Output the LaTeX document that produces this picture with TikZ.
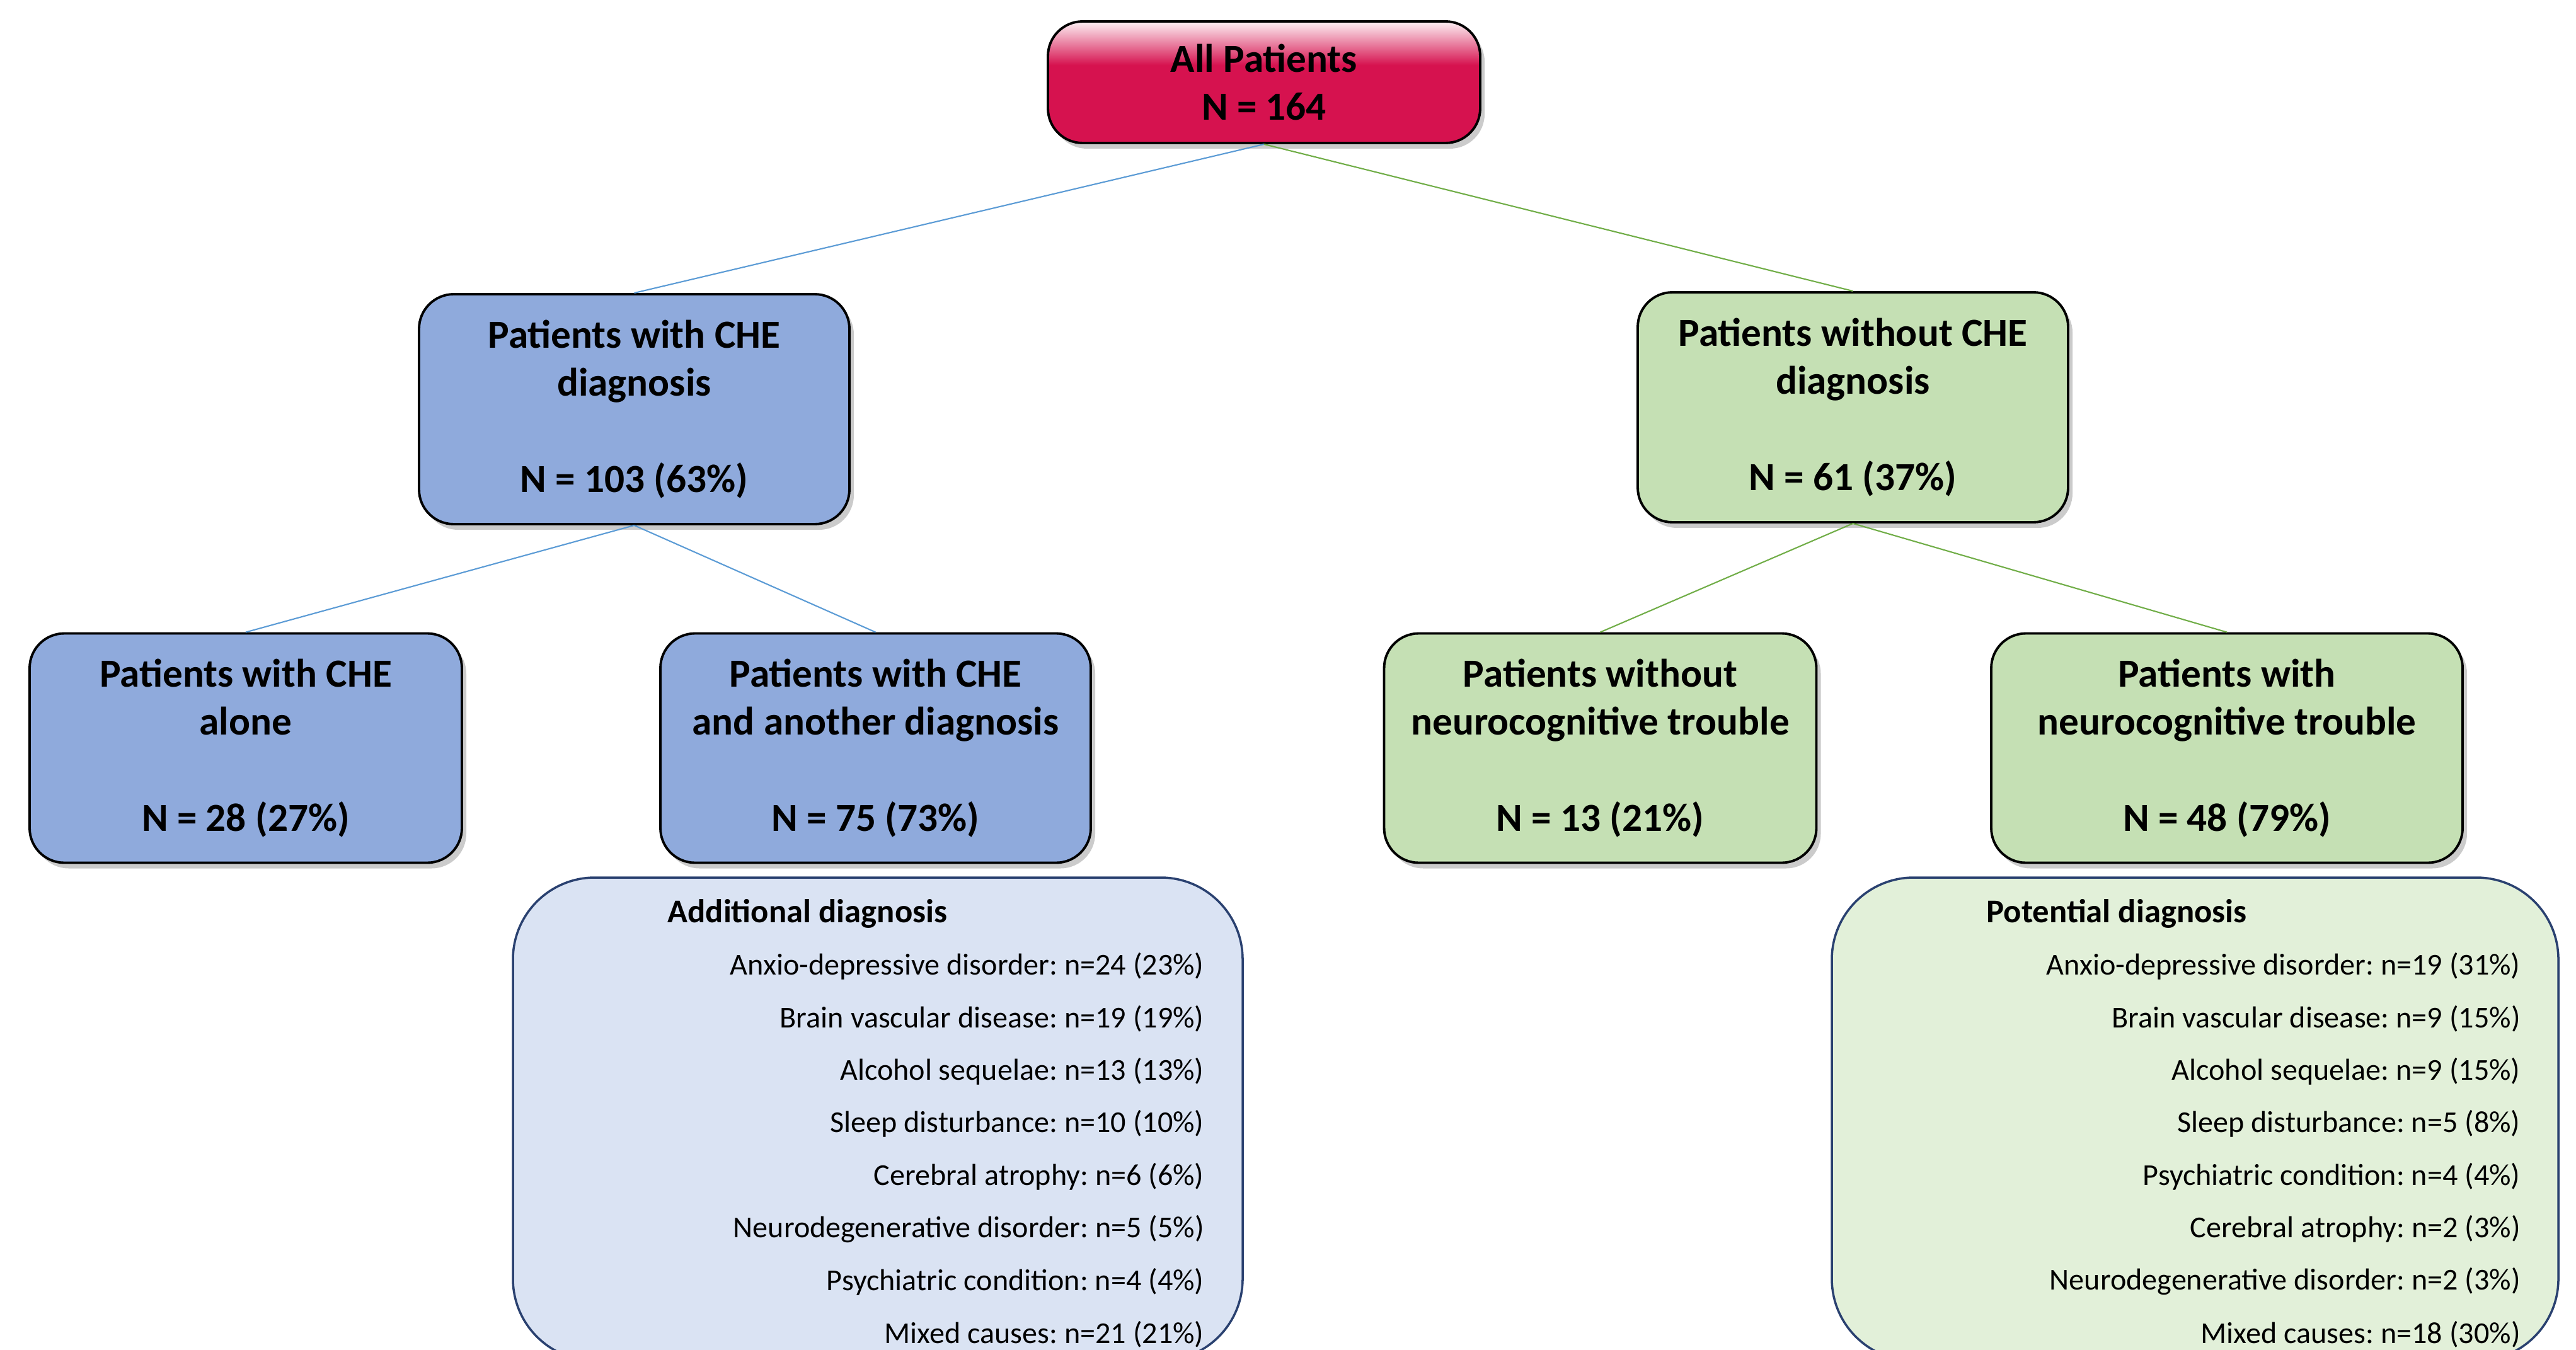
\documentclass[tikz,border=0pt]{standalone}
\usepackage{fontspec}
\setmainfont{Carlito}
\usetikzlibrary{shadows}
\frenchspacing
\definecolor{allred}{HTML}{D6124F}
\colorlet{allpale}{allred!6!white}
\definecolor{cheblue}{HTML}{8FAADC}
\definecolor{noche}{HTML}{C5E0B4}
\definecolor{listblue}{HTML}{DAE3F3}
\definecolor{listgreen}{HTML}{E2F0D9}
\definecolor{listedge}{HTML}{2A4170}
\definecolor{lineblue}{HTML}{5B9BD5}
\definecolor{linegreen}{HTML}{70AD47}
\pgfdeclareverticalshading{gloss}{100bp}{color(0bp)=(allred); color(25bp)=(allred); color(57bp)=(allred); color(75bp)=(allpale); color(100bp)=(allpale)}
\tikzset{
  box/.style={rectangle, rounded corners=0.55cm, draw=black, line width=1.1pt, align=center,
    font=\bfseries\fontsize{18}{21.8}\selectfont,
    drop shadow={shadow xshift=0.07cm, shadow yshift=-0.09cm, fill=black!45, opacity=0.45}},
  bluebox/.style={box, fill=cheblue, minimum width=6.84cm, minimum height=3.64cm},
  greenbox/.style={box, fill=noche, minimum width=6.86cm, minimum height=3.64cm},
  listbox/.style={rectangle, rounded corners=1.3cm, line width=1pt, draw=listedge},
  head/.style={anchor=west, font=\bfseries\fontsize{15}{17}\selectfont},
  item/.style={anchor=east, font=\fontsize{13.7}{16}\selectfont},
}
\begin{document}
\begin{tikzpicture}
\useasboundingbox (0,0) rectangle (40.88,-21.42);
\clip (0,0) rectangle (40.88,-21.42);
% first level
\node[box, shade, shading=gloss, minimum width=6.86cm, minimum height=1.93cm] (all) at (20.06,-1.305)
  {All Patients\\N = 164};
% second level
\node[bluebox, minimum width=6.83cm, minimum height=3.65cm] (che) at (10.065,-6.495)
  {Patients with CHE\\diagnosis\\[21.8pt]N = 103 (63\%)};
\node[greenbox, minimum width=6.83cm, minimum height=3.65cm] (noche) at (29.405,-6.465)
  {Patients without CHE\\diagnosis\\[21.8pt]N = 61 (37\%)};
% third level
\node[bluebox, minimum width=6.86cm] (alone) at (3.90,-11.875)
  {Patients with CHE\\alone\\[21.8pt]N = 28 (27\%)};
\node[bluebox, minimum width=6.83cm] (another) at (13.895,-11.875)
  {Patients with CHE\\and another diagnosis\\[21.8pt]N = 75 (73\%)};
\node[greenbox] (noneuro) at (25.395,-11.875)
  {Patients without\\neurocognitive trouble\\[21.8pt]N = 13 (21\%)};
\node[greenbox, minimum width=7.48cm] (neuro) at (35.34,-11.875)
  {Patients with\\neurocognitive trouble\\[21.8pt]N = 48 (79\%)};
% links
\draw[lineblue, line width=0.6pt] (all.south) -- (che.north);
\draw[linegreen, line width=0.6pt] (all.south) -- (noche.north);
\draw[lineblue, line width=0.6pt] (che.south) -- (alone.north);
\draw[lineblue, line width=0.6pt] (che.south) -- (another.north);
\draw[linegreen, line width=0.6pt] (noche.south) -- (noneuro.north);
\draw[linegreen, line width=0.6pt] (noche.south) -- (neuro.north);
% lists
\node[listbox, fill=listblue, minimum width=11.58cm, minimum height=7.67cm] (addlist) at (13.93,-17.765) {};
\node[listbox, fill=listgreen, minimum width=11.53cm, minimum height=7.67cm] (potlist) at (34.835,-17.765) {};
\node[head] (addhead) at (10.47,-14.50) {Additional diagnosis};
\node[head] (pothead) at (31.40,-14.50) {Potential diagnosis};
\foreach \txt [count=\i] in {Anxio-depressive disorder: n=24 (23\%), Brain vascular disease: n=19 (19\%),
  Alcohol sequelae: n=13 (13\%), Sleep disturbance: n=10 (10\%), Cerebral atrophy: n=6 (6\%),
  Neurodegenerative disorder: n=5 (5\%), Psychiatric condition: n=4 (4\%), Mixed causes: n=21 (21\%)}
  \node[item] (add\i) at (19.23,{-15.34-0.834*(\i-1)}) {\txt};
\foreach \txt [count=\i] in {Anxio-depressive disorder: n=19 (31\%), Brain vascular disease: n=9 (15\%),
  Alcohol sequelae: n=9 (15\%), Sleep disturbance: n=5 (8\%), Psychiatric condition: n=4 (4\%),
  Cerebral atrophy: n=2 (3\%), Neurodegenerative disorder: n=2 (3\%), Mixed causes: n=18 (30\%)}
  \node[item] (pot\i) at (40.12,{-15.34-0.834*(\i-1)}) {\txt};
\end{tikzpicture}
\end{document}
